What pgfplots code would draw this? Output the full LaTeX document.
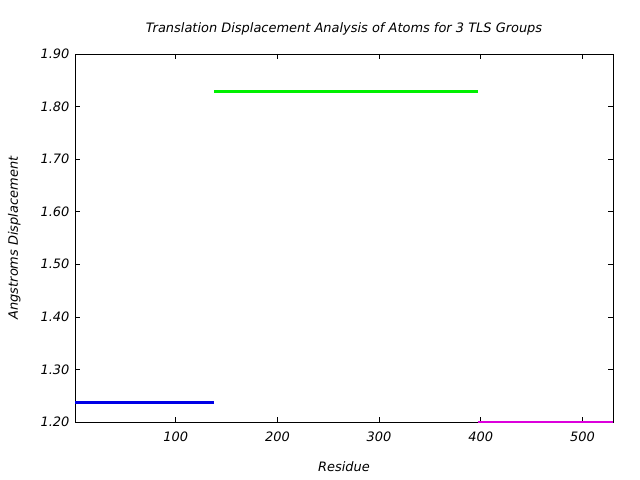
\documentclass[border=0pt]{standalone}
\usepackage{fontspec}
\setmainfont{DejaVu Sans}
\usepackage{pgfplots}
\pgfplotsset{compat=1.18}
\definecolor{grpblue}{RGB}{0,0,230}
\definecolor{grpgreen}{RGB}{0,240,0}
\definecolor{grpmag}{RGB}{220,0,220}
\begin{document}
\begin{tikzpicture}[font=\fontsize{13}{15}\selectfont\itshape]
\path[use as bounding box] (0,0) rectangle (640bp,480bp);
\begin{axis}[
  at={(75bp,58bp)}, anchor=south west,
  scale only axis, width=538bp, height=368bp,
  xmin=1, xmax=530, ymin=1.2, ymax=1.9,
  xtick={100,200,300,400,500},
  ytick={1.2,1.3,1.4,1.5,1.6,1.7,1.8,1.9},
  yticklabel style={/pgf/number format/fixed,/pgf/number format/fixed zerofill,/pgf/number format/precision=2, xshift=-2bp},
  /pgf/number format/assume math mode=true,
  tick align=inside, major tick length=5bp,
  tick style={black, line width=0.6bp},
  axis line style={line width=0.8bp},
  xticklabel style={yshift=-6bp},
  xlabel={Residue}, ylabel={Angstroms Displacement},
  xlabel style={at={(axis description cs:0.5,-0.122)}, anchor=center},
  ylabel style={at={(axis description cs:-0.113,0.5)}, anchor=center},
  title={Translation Displacement Analysis of Atoms for 3 TLS Groups},
  title style={at={(axis description cs:0.5,1.052)}, anchor=center},
  clip=false,
]
\addplot[grpblue, line width=3bp] coordinates {(1,1.238) (138,1.238)};
\addplot[grpgreen, line width=3bp] coordinates {(138,1.829) (397,1.829)};
\addplot[grpmag, line width=2.2bp] coordinates {(397,1.2) (530,1.2)};
\end{axis}
\end{tikzpicture}
\end{document}
